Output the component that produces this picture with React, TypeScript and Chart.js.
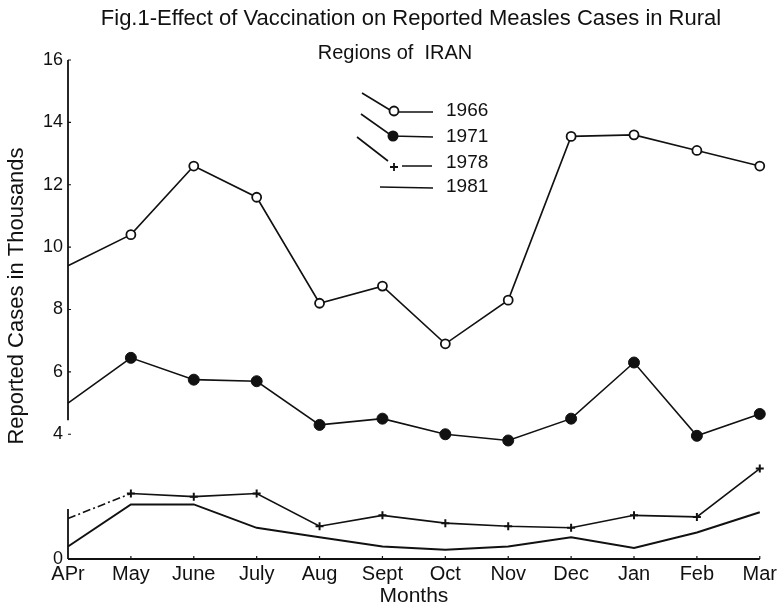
import React, { useEffect, useRef } from 'react';
import { Chart, registerables } from 'chart.js';

Chart.register(...registerables);

const months = ['APr', 'May', 'June', 'July', 'Aug', 'Sept', 'Oct', 'Nov', 'Dec', 'Jan', 'Feb', 'Mar'];
const cases1966 = [9.4, 10.4, 12.6, 11.6, 8.2, 8.75, 6.9, 8.3, 13.55, 13.6, 13.1, 12.6];
const cases1971 = [5.0, 6.45, 5.75, 5.7, 4.3, 4.5, 4.0, 3.8, 4.5, 6.3, 3.95, 4.65];
const cases1978 = [1.3, 2.1, 2.0, 2.1, 1.05, 1.4, 1.15, 1.05, 1.0, 1.4, 1.35, 2.9];
const cases1981 = [0.4, 1.75, 1.75, 1.0, 0.7, 0.4, 0.3, 0.4, 0.7, 0.35, 0.85, 1.5];
const yTicks = [0, 4, 6, 8, 10, 12, 14, 16];
const seriesNames = ['1966', '1971', '1978', '1981'];
const titleLines = ['Fig.1-Effect of Vaccination on Reported Measles Cases in Rural', 'Regions of  IRAN'];
const yTitle = 'Reported Cases in Thousands';
const xTitle = 'Months';

const FONT = '"Liberation Sans", Arial, sans-serif';
const INK = '#111';

const noFirst = (r: number) => months.map((_, i) => (i === 0 ? 0 : r));

const decorPlugin = {
  id: 'decor',
  afterDraw(chart: any) {
    const ctx = chart.ctx;
    const y = chart.scales.y;
    const x = chart.scales.x;
    const left = chart.chartArea.left;
    ctx.save();
    ctx.strokeStyle = INK;
    ctx.fillStyle = INK;
    ctx.lineWidth = 1.8;
    // broken y axis
    ctx.beginPath();
    ctx.moveTo(left, y.getPixelForValue(16));
    ctx.lineTo(left, y.getPixelForValue(4.45));
    ctx.moveTo(left, y.getPixelForValue(1.6));
    ctx.lineTo(left, y.getPixelForValue(0));
    ctx.stroke();
    // y ticks
    ctx.lineWidth = 1.2;
    ctx.beginPath();
    yTicks.forEach((v) => {
      if (v === 0) return;
      const py = y.getPixelForValue(v);
      ctx.moveTo(left, py);
      ctx.lineTo(left + 3, py);
    });
    ctx.stroke();
    // x axis
    ctx.lineWidth = 1.8;
    ctx.beginPath();
    ctx.moveTo(x.getPixelForValue(0), y.getPixelForValue(0));
    ctx.lineTo(x.getPixelForValue(months.length - 1), y.getPixelForValue(0));
    ctx.stroke();
    ctx.lineWidth = 1.2;
    ctx.beginPath();
    months.forEach((_, i) => {
      if (i === 0) return;
      const px = x.getPixelForValue(i);
      ctx.moveTo(px, y.getPixelForValue(0));
      ctx.lineTo(px, y.getPixelForValue(0) - 3);
    });
    ctx.stroke();

    // title
    ctx.textAlign = 'center';
    ctx.textBaseline = 'alphabetic';
    ctx.font = `22px ${FONT}`;
    ctx.fillText(titleLines[0], 411, 25);
    ctx.font = `20px ${FONT}`;
    ctx.fillText(titleLines[1], 395, 59);

    // y title
    ctx.save();
    ctx.translate(17, 296);
    ctx.rotate(-Math.PI / 2);
    ctx.font = `22px ${FONT}`;
    ctx.textAlign = 'center';
    ctx.textBaseline = 'middle';
    ctx.fillText(yTitle, 0, 0);
    ctx.restore();

    // legend
    ctx.lineWidth = 1.6;
    ctx.font = `19px ${FONT}`;
    ctx.textAlign = 'left';
    ctx.textBaseline = 'middle';
    // 1966
    ctx.beginPath();
    ctx.moveTo(362, 93); ctx.lineTo(390, 110);
    ctx.moveTo(399, 112); ctx.lineTo(433, 112);
    ctx.stroke();
    ctx.beginPath();
    ctx.arc(394, 111, 4.5, 0, Math.PI * 2);
    ctx.fillStyle = '#fff';
    ctx.fill();
    ctx.lineWidth = 1.8;
    ctx.stroke();
    ctx.fillStyle = INK;
    ctx.fillText(seriesNames[0], 446, 111);
    // 1971
    ctx.lineWidth = 1.6;
    ctx.beginPath();
    ctx.moveTo(361, 114); ctx.lineTo(392, 136);
    ctx.lineTo(433, 137);
    ctx.stroke();
    ctx.beginPath();
    ctx.arc(393, 136, 5.5, 0, Math.PI * 2);
    ctx.fill();
    ctx.fillText(seriesNames[1], 446, 137);
    // 1978
    ctx.beginPath();
    ctx.moveTo(357, 137); ctx.lineTo(388, 161);
    ctx.moveTo(402, 166); ctx.lineTo(432, 166);
    ctx.stroke();
    ctx.lineWidth = 1.8;
    ctx.beginPath();
    ctx.moveTo(390, 167); ctx.lineTo(398, 167);
    ctx.moveTo(394, 163); ctx.lineTo(394, 171);
    ctx.stroke();
    ctx.fillText(seriesNames[2], 446, 163);
    // 1981
    ctx.lineWidth = 1.6;
    ctx.beginPath();
    ctx.moveTo(380, 187); ctx.lineTo(433, 188);
    ctx.stroke();
    ctx.fillText(seriesNames[3], 446, 187);
    ctx.restore();
  },
};

export default function App() {
  const ref = useRef<HTMLCanvasElement | null>(null);

  useEffect(() => {
    if (!ref.current) return;
    const chart = new Chart(ref.current, {
      type: 'line',
      data: {
        labels: months,
        datasets: [
          {
            label: seriesNames[0],
            data: cases1966,
            borderColor: INK,
            borderWidth: 1.6,
            pointStyle: 'circle',
            pointRadius: noFirst(4.5),
            pointBackgroundColor: '#fff',
            pointBorderColor: INK,
            pointBorderWidth: 1.8,
            tension: 0,
          },
          {
            label: seriesNames[1],
            data: cases1971,
            borderColor: INK,
            borderWidth: 1.6,
            pointStyle: 'circle',
            pointRadius: noFirst(5.5),
            pointBackgroundColor: INK,
            pointBorderColor: INK,
            pointBorderWidth: 1,
            tension: 0,
          },
          {
            label: seriesNames[2],
            data: cases1978,
            borderColor: INK,
            borderWidth: 1.6,
            pointStyle: 'cross',
            pointRadius: noFirst(4),
            pointBorderColor: INK,
            pointBorderWidth: 2,
            tension: 0,
            segment: {
              borderDash: (c: any) => (c.p0DataIndex === 0 ? [8, 3, 2, 3] : undefined),
            },
          },
          {
            label: seriesNames[3],
            data: cases1981,
            borderColor: INK,
            borderWidth: 2,
            pointRadius: 0,
            tension: 0,
          },
        ],
      },
      options: {
        responsive: false,
        animation: false,
        devicePixelRatio: 1,
        layout: { padding: { top: 60, left: 0, right: 0, bottom: 0 } },
        plugins: {
          legend: { display: false },
          title: { display: false },
          tooltip: { enabled: false },
        },
        scales: {
          x: {
            type: 'category',
            offset: false,
            grid: { display: false, drawTicks: false },
            border: { display: false },
            ticks: {
              color: INK,
              font: { family: FONT, size: 20 },
              padding: 3,
              maxRotation: 0,
              autoSkip: false,
            },
            title: {
              display: true,
              text: xTitle,
              color: INK,
              font: { family: FONT, size: 21 },
              padding: { top: 0, bottom: 0 },
            },
            afterFit: (axis: any) => {
              axis.height = 50;
            },
          },
          y: {
            type: 'linear',
            min: 0,
            max: 16,
            grid: { display: false, drawTicks: false },
            border: { display: false },
            ticks: {
              color: INK,
              font: { family: FONT, size: 18 },
              padding: 5,
            },
            afterBuildTicks: (axis: any) => {
              axis.ticks = yTicks.map((v) => ({ value: v }));
            },
            afterFit: (axis: any) => {
              axis.width = 68;
            },
          },
        },
      },
      plugins: [decorPlugin],
    });
    return () => chart.destroy();
  }, []);

  return (
    <div style={{ position: 'fixed', left: 0, top: 0, width: 780, height: 609, background: '#fff' }}>
      <canvas ref={ref} width={780} height={609} />
    </div>
  );
}
